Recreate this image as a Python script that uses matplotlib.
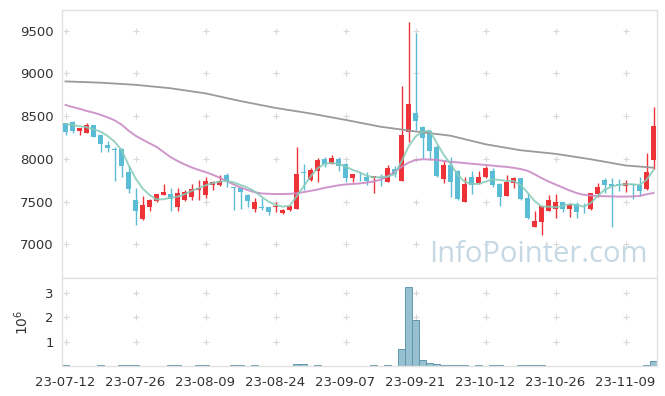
import numpy as np
import matplotlib
matplotlib.use("Agg")
import matplotlib.pyplot as plt

# tick labels (one label every 10 trading days)
date_labels = ['23-07-12', '23-07-26', '23-08-09', '23-08-24', '23-09-07',
               '23-09-21', '23-10-12', '23-10-26', '23-11-09']

# daily OHLC, 85 trading days
opens = [8416, 8431, 8330, 8306, 8396, 8279, 8162, 8112, 8112, 7846,
         7519, 7293, 7441, 7511, 7581, 7585, 7437, 7519, 7558, 7636,
         7581, 7690, 7690, 7807, 7667, 7659, 7573, 7410, 7441, 7437,
         7433, 7363, 7402, 7417, 7840, 7753, 7862, 7995, 7944, 7995,
         7936, 7772, 7790, 7784, 7772, 7790, 7733, 7881, 7745, 8310,
         8533, 8377, 8326, 8135, 7764, 7928, 7862, 7499, 7784, 7714,
         7784, 7862, 7706, 7566, 7721, 7772, 7542, 7207, 7265, 7394,
         7413, 7491, 7413, 7468, 7440, 7410, 7593, 7753, 7702, 7702,
         7686, 7702, 7694, 7644, 7987]
highs = [8420, 8439, 8365, 8416, 8396, 8280, 8213, 8143, 8123, 7920,
         7655, 7560, 7525, 7590, 7702, 7655, 7655, 7636, 7702, 7749,
         7784, 7737, 7815, 7830, 7670, 7660, 7585, 7546, 7546, 7440,
         7500, 7410, 7460, 8143, 7936, 7890, 8006, 8018, 8045, 8025,
         7948, 7820, 7850, 7850, 7800, 7820, 7928, 7920, 8853, 9597,
         9469, 8380, 8338, 8162, 7979, 8026, 7870, 7784, 7862, 7862,
         7917, 7889, 7720, 7807, 7792, 7775, 7597, 7386, 7450, 7577,
         7585, 7499, 7488, 7495, 7480, 7600, 7722, 7772, 7772, 7760,
         7753, 7705, 7784, 8065, 8603]
lows = [8275, 8298, 8283, 8298, 8252, 8084, 8084, 7741, 7792, 7597,
        7222, 7290, 7390, 7500, 7580, 7390, 7390, 7507, 7519, 7519,
        7538, 7636, 7685, 7667, 7402, 7417, 7437, 7382, 7402, 7343,
        7382, 7351, 7390, 7410, 7636, 7741, 7733, 7901, 7936, 7862,
        7733, 7733, 7745, 7694, 7597, 7686, 7730, 7788, 7745, 8201,
        8338, 8014, 7987, 7790, 7721, 7550, 7519, 7495, 7589, 7710,
        7780, 7675, 7449, 7560, 7655, 7519, 7292, 7207, 7109, 7390,
        7304, 7374, 7316, 7304, 7370, 7405, 7550, 7597, 7207, 7620,
        7616, 7530, 7565, 7640, 7881]
closes = [8314, 8322, 8361, 8396, 8260, 8178, 8131, 8105, 7920, 7651,
          7394, 7456, 7519, 7585, 7612, 7527, 7597, 7612, 7644, 7659,
          7741, 7729, 7741, 7741, 7660, 7616, 7511, 7491, 7429, 7382,
          7449, 7402, 7449, 7823, 7832, 7870, 7987, 7944, 8006, 7920,
          7780, 7819, 7782, 7745, 7796, 7780, 7889, 7827, 8279, 8638,
          8443, 8248, 8092, 7803, 7928, 7733, 7527, 7706, 7694, 7784,
          7889, 7694, 7558, 7729, 7776, 7527, 7308, 7273, 7449, 7519,
          7491, 7413, 7460, 7382, 7433, 7597, 7667, 7698, 7686, 7690,
          7718, 7690, 7628, 7846, 8385]

# volume in millions of shares
volume = [0.03, 0.005, 0.005, 0.005, 0.005, 0.03, 0.005, 0.005, 0.03, 0.03,
          0.06, 0.005, 0.005, 0.005, 0.005, 0.03, 0.03, 0.005, 0.005, 0.03,
          0.03, 0.005, 0.005, 0.005, 0.03, 0.03, 0.005, 0.03, 0.005, 0.005,
          0.005, 0.005, 0.005, 0.07, 0.07, 0.005, 0.03, 0.005, 0.005, 0.005,
          0.005, 0.005, 0.005, 0.005, 0.03, 0.005, 0.03, 0.005, 0.68, 3.27,
          1.89, 0.23, 0.11, 0.07, 0.03, 0.03, 0.03, 0.03, 0.005, 0.03,
          0.005, 0.03, 0.03, 0.005, 0.005, 0.03, 0.03, 0.03, 0.03, 0.005,
          0.005, 0.005, 0.005, 0.005, 0.005, 0.005, 0.005, 0.005, 0.005, 0.005,
          0.005, 0.005, 0.005, 0.03, 0.19]

# moving averages
ma_short = [8408, 8395, 8380, 8369, 8345, 8318, 8268, 8201, 8104, 7928,
            7772, 7655, 7577, 7526, 7526, 7546, 7558, 7585, 7624, 7655,
            7690, 7714, 7733, 7741, 7725, 7694, 7663, 7620, 7558, 7499,
            7460, 7441, 7449, 7558, 7675, 7792, 7889, 7940, 7952, 7940,
            7909, 7870, 7842, 7803, 7784, 7784, 7792, 7819, 7967, 8143,
            8260, 8318, 8330, 8190, 8050, 7940, 7815, 7733, 7706, 7706,
            7733, 7760, 7753, 7741, 7741, 7694, 7605, 7507, 7441, 7441,
            7433, 7449, 7468, 7460, 7441, 7480, 7565, 7636, 7675, 7694,
            7702, 7702, 7694, 7753, 7870]
ma_mid = [8630, 8605, 8585, 8560, 8540, 8515, 8485, 8450, 8400, 8330,
          8270, 8225, 8181, 8140, 8080, 8020, 7975, 7935, 7900, 7870,
          7845, 7815, 7780, 7740, 7700, 7665, 7635, 7610, 7595, 7590,
          7588, 7588, 7590, 7596, 7610, 7625, 7640, 7660, 7675, 7690,
          7700, 7705, 7712, 7721, 7735, 7755, 7792, 7845, 7905, 7955,
          7985, 7995, 7992, 7987, 7975, 7965, 7958, 7950, 7942, 7935,
          7928, 7920, 7912, 7905, 7895, 7880, 7860, 7820, 7775, 7735,
          7700, 7665, 7630, 7600, 7580, 7570, 7565, 7562, 7560, 7558,
          7558, 7560, 7565, 7585, 7600]
ma_long_day = [0, 5, 10, 15, 20, 25, 30, 35, 40, 45, 50, 55, 60, 65, 70, 75, 80, 84]
ma_long = [8905, 8890, 8865, 8825, 8765, 8675, 8595, 8530, 8455, 8375,
           8320, 8270, 8170, 8100, 8058, 7995, 7922, 7896]

price_ticks = [7000, 7500, 8000, 8500, 9000, 9500]
vol_ticks = [1, 2, 3]

up_color = '#ee3338'
down_color = '#5bbcd6'
grid_color = '#d8d8d8'

fig = plt.figure(figsize=(6.65, 3.96), dpi=100)
W, H = 665, 396
ax = fig.add_axes([62 / W, 1 - 278 / H, 595 / W, 268 / H])
axv = fig.add_axes([62 / W, 1 - 366 / H, 595 / W, 88 / H], sharex=ax)

x = np.arange(len(closes))
o = np.array(opens)
c = np.array(closes)
up = c >= o
colors = np.where(up, up_color, down_color)

# grid drawn as small crosses at the tick crossings
tick_pos = np.arange(len(date_labels)) * 10
gx, gy = np.meshgrid(tick_pos, price_ticks)
ax.scatter(gx.ravel(), gy.ravel(), marker='+', s=18, color=grid_color, linewidths=0.8, zorder=0)
gx, gy = np.meshgrid(tick_pos, vol_ticks)
axv.scatter(gx.ravel(), gy.ravel(), marker='+', s=18, color=grid_color, linewidths=0.8, zorder=0)

# candles
ax.vlines(x, lows, highs, colors=colors, linewidth=1.0, zorder=2)
body_h = np.maximum(np.abs(c - o), 8)
ax.bar(x, body_h, bottom=np.minimum(o, c), width=0.72, color=colors, linewidth=0, zorder=3)

# moving averages
ax.plot(ma_long_day, ma_long, color='#9a9a9a', lw=1.3, zorder=4)
ax.plot(x, ma_mid, color='#c98bc6', lw=1.4, alpha=0.9, zorder=4)
ax.plot(x, ma_short, color='#86cbb8', lw=1.4, alpha=0.85, zorder=4)

ax.text(0.985, 0.035, 'InfoPointer.com', transform=ax.transAxes, ha='right', va='bottom',
        fontsize=21, color='#c5d8e3', family='Open Sans', zorder=1)

ax.set_ylim(6606, 9740)
ax.set_yticks(price_ticks)
ax.set_xlim(-0.5, len(closes) - 0.5)

# volume
axv.bar(x, volume, width=1.0, color='#97c1d1', edgecolor='#5f97ad', linewidth=0.7, zorder=2)
axv.set_ylim(0, 3.62)
axv.set_yticks(vol_ticks)
axv.set_yticklabels([str(v) for v in vol_ticks])
axv.set_ylabel(r'$10^6$', fontsize=10, color='#333333', labelpad=14)
axv.yaxis.set_label_coords(-0.052, 0.5)
axv.set_xticks(tick_pos)
axv.set_xticklabels(date_labels)

for a in (ax, axv):
    for s in a.spines.values():
        s.set_color('#e2e2e2')
        s.set_linewidth(1.0)
    a.tick_params(length=0, labelsize=9.5, colors='#333333', pad=6)
ax.tick_params(axis='x', labelbottom=False)
axv.tick_params(axis='x', pad=7)

fig.savefig('out.png', dpi=100)
